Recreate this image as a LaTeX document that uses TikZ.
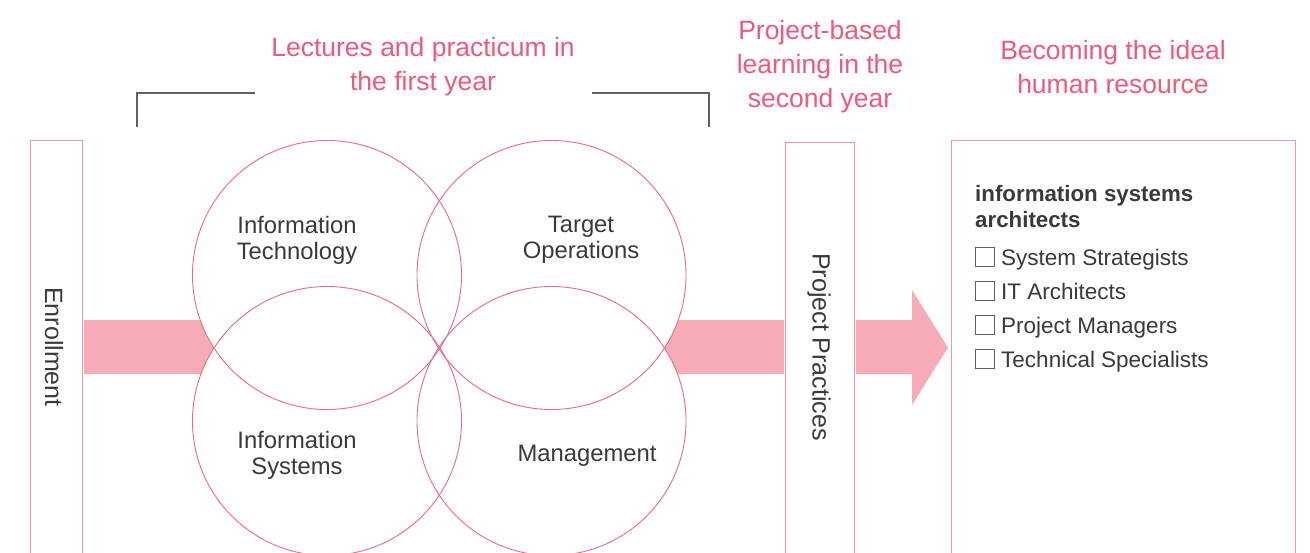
\documentclass[tikz,border=0pt]{standalone}
\usepackage{fontspec}
\setmainfont{Liberation Sans}
\usetikzlibrary{calc}
\definecolor{pinktxt}{HTML}{EE5A7A}
\definecolor{pinkline}{HTML}{EC6A86}
\definecolor{boxline}{HTML}{F293A6}
\definecolor{bandfill}{HTML}{F7ABB7}
\definecolor{darktxt}{HTML}{3A3A3A}
\definecolor{grayline}{HTML}{606060}
\tikzset{
  title/.style={text=pinktxt, align=center, font=\fontsize{26.5}{34}\selectfont, inner sep=0},
  vbox/.style={draw=boxline, line width=1.3pt, fill=white, anchor=north west, inner sep=0},
  circ/.style={circle, minimum size=269pt, inner sep=0},
  ctext/.style={text=darktxt, align=center, font=\fontsize{23.8}{26}\selectfont, inner sep=0},
  rtext/.style={text=darktxt, rotate=-90, font=\fontsize{25}{28}\selectfont, inner sep=0},
  item/.style={text=darktxt, anchor=base west, font=\fontsize{22.5}{26}\selectfont, inner sep=0},
  chk/.style={draw=grayline, line width=0.9pt, minimum width=19pt, minimum height=19pt, inner sep=0},
  band/.style={fill=bandfill},
  bracket/.style={draw=grayline, line width=1.1pt},
}
\begin{document}
\begin{tikzpicture}[x=1pt, y=-1pt]
\useasboundingbox (0,0) rectangle (1310,552);
\clip (0,0) rectangle (1310,552);
\fill[white] (0,0) rectangle (1310,552);

% titles
\node[title] (t1) at (423,67) {Lectures and practicum in\\the first year};
\node[title] (t2) at (820,67) {Project-based\\learning in the\\second year};
\node[title] (t3) at (1113,67) {Becoming the ideal\\human resource};

% bracket
\coordinate (bl) at (137,127);
\coordinate (br) at (709,127);
\draw[bracket] (bl) |- (255,93);
\draw[bracket] (br) |- (592,93);

% boxes
\node[vbox, minimum width=52pt, minimum height=450pt] (enr) at (30,140) {};
\node[vbox, minimum width=69pt, minimum height=450pt] (pp) at (785,142) {};
\node[vbox, minimum width=344pt, minimum height=450pt] (res) at (951,140) {};

% band
\fill[band] ($(enr.north east)+(0.7,180)$) rectangle ($(pp.north west)+(-0.7,232)$);
\fill[band] ($(pp.north east)+(0.7,178)$) -- (912,320) -- (912,290) -- (948,347.5)
  -- (912,405) -- (912,374) -- ($(pp.north east)+(0.7,232)$) -- cycle;
\coordinate (tip) at (948,347.5);

% circles
\node[circ, fill=white] (it) at (327,275) {};
\node[circ, fill=white] (to) at (551.5,275) {};
\node[circ, fill=white] (is) at (327,421) {};
\node[circ, fill=white] (mg) at (551.5,421) {};
\foreach \c in {it,to,is,mg} \draw[pinkline, line width=0.9pt] (\c) circle (134.5pt);

\node[ctext] (itl) at (297,240) {Information\\Technology};
\node[ctext] (tol) at (581,240) {Target\\Operations};
\node[ctext] (isl) at (297,455) {Information\\Systems};
\node[ctext] (mgl) at (587,456) {Management};

% rotated labels
\node[rtext] (enrl) at (54,347) {Enrollment};
\node[rtext] (ppl) at (819,347) {Project Practices};

% right box content
\node[text=darktxt, anchor=north west, align=left, inner sep=0,
  font=\bfseries\fontsize{22.3}{26}\selectfont] (hd) at (975,185) {information systems\\architects};
\foreach \y/\t/\n in {257/System Strategists/a, 291/IT Architects/b, 325/Project Managers/c, 359/Technical Specialists/d}{
  \node[chk] (c\n) at (985,\y) {};
  \node[item] (i\n) at (1001,\y+8) {\t};
}
\end{tikzpicture}
\end{document}
